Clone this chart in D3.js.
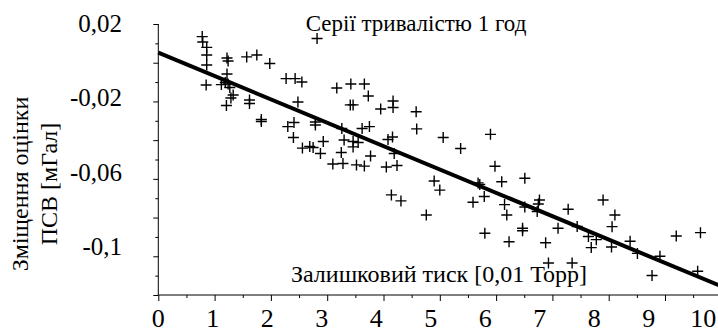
<!DOCTYPE html>
<html>
<head>
<meta charset="utf-8">
<script src="https://cdn.jsdelivr.net/npm/d3@7"></script>
<style>
  body { margin: 0; background: #fff; }
  #chart text { font-family: "Liberation Serif", serif; }
</style>
</head>
<body>
<svg id="chart" width="718" height="333"></svg>
<script>
// residual pressure, 0.01 Torr
const pressure = [
  0.78, 0.79, 0.86, 0.86, 0.86, 0.85, 1.22, 1.24, 1.22, 1.12, 1.19, 1.24, 1.27, 1.33, 1.29, 1.21,
  1.57, 1.75, 1.98, 1.62, 1.62, 1.83, 1.83, 2.27, 2.43, 2.55, 2.48, 2.30, 2.41, 2.40, 2.79, 2.79,
  2.56, 2.69, 2.75, 2.93, 2.88, 2.82, 3.17, 3.42, 3.66, 3.73, 3.41, 3.46, 3.95, 4.17, 4.17, 3.26,
  3.30, 3.46, 3.46, 3.55, 3.62, 3.75, 3.25, 3.77, 4.08, 4.16, 4.19, 3.66, 4.05, 4.24, 3.10, 3.28,
  3.52, 4.58, 4.59, 5.06, 5.37, 5.90, 5.98, 4.90, 5.00, 4.14, 4.31, 4.76, 5.59, 5.68, 5.71, 5.79,
  6.10, 6.51, 6.15, 6.19, 6.51, 6.77, 6.75, 6.73, 7.28, 7.90, 8.11, 8.06, 7.44, 7.10, 6.47, 6.47,
  5.80, 6.23, 6.88, 7.64, 7.69, 7.78, 8.05, 8.38, 8.51, 8.91, 9.20, 9.63, 8.77, 9.58, 6.93, 7.35
]
// shift of the estimate, mGal
const shift = [
  0.0135, 0.0107, 0.0079, 0.0040, -0.0012, -0.0115, 0.0024, 0.0009, -0.0058, -0.0113, -0.0102, -0.0110, -0.0128, -0.0167, -0.0182, -0.0221,
  0.0030, 0.0040, -0.0004, -0.0193, -0.0211, -0.0293, -0.0304, -0.0082, -0.0082, -0.0100, -0.0203, -0.0330, -0.0309, -0.0386, -0.0306, -0.0322,
  -0.0441, -0.0433, -0.0438, -0.0407, -0.0469, 0.0125, -0.0131, -0.0110, -0.0110, -0.0172, -0.0218, -0.0218, -0.0239, -0.0198, -0.0231, -0.0340,
  -0.0399, -0.0407, -0.0435, -0.0412, -0.0340, -0.0330, -0.0464, -0.0482, -0.0397, -0.0384, -0.0469, -0.0534, -0.0539, -0.0531, -0.0523, -0.0521,
  -0.0528, -0.0253, -0.0342, -0.0386, -0.0443, -0.0370, -0.0535, -0.0611, -0.0658, -0.0683, -0.0714, -0.0787, -0.0721, -0.0621, -0.0629, -0.0691,
  -0.0615, -0.0597, -0.0733, -0.0787, -0.0745, -0.0709, -0.0730, -0.0769, -0.0757, -0.0709, -0.0787, -0.0847, -0.0846, -0.0855, -0.0855, -0.0868,
  -0.0881, -0.0925, -0.0930, -0.0898, -0.0955, -0.0914, -0.0952, -0.0922, -0.0985, -0.1000, -0.0895, -0.0878, -0.1099, -0.1077, -0.1035, -0.1035
]

// regression line end points
const fitX = [0, 10]
const fitY = [0.0052, -0.1155]

const xTickValues = [0, 1, 2, 3, 4, 5, 6, 7, 8, 9, 10]
const yTickValues = [0.02, -0.02, -0.06, -0.1]
const yTickLabels = ["0,02", "-0,02", "-0,06", "-0,1"]

const FONT = "Liberation Serif"
const width = 718

const svg = d3.select("#chart")

const x = d3.scaleLinear().domain([0, 10]).range([158.3, 721.3])
const y = d3.scaleLinear().domain([-0.12, 0.02]).range([295, 24])

// tick labels in the original sit slightly off their ticks
const xLabelPos = d3.scaleLinear().domain([0, 10]).range([158.3, 703.3])
const yLabelPos = d3.scaleLinear().domain([-0.1, 0.02]).range([247, 24])

// x axis: major ticks at integers, minor at halves
const xMinor = d3.range(0.5, 10.5, 1)
svg.append("g")
  .attr("transform", `translate(0,${y(-0.12)})`)
  .call(d3.axisBottom(x).tickValues(xTickValues).tickSize(6).tickFormat(""))
  .call((g) => g.select(".domain").remove())
svg.append("g")
  .attr("transform", `translate(0,${y(-0.12)})`)
  .call(d3.axisBottom(x).tickValues(xMinor).tickSize(3).tickFormat(""))
  .call((g) => g.select(".domain").remove())
svg.append("line")
  .attr("x1", x(0)).attr("x2", width)
  .attr("y1", y(-0.12)).attr("y2", y(-0.12))
  .attr("stroke", "#000")

// y axis: ticks every 0.01
const yMajor = d3.range(-6, 2).map((i) => i * 0.02)
const yMinor = d3.range(-6, 1).map((i) => i * 0.02 + 0.01)
svg.append("g")
  .attr("transform", `translate(${x(0)},0)`)
  .call(d3.axisLeft(y).tickValues(yMajor).tickSize(5).tickFormat(""))
  .call((g) => g.select(".domain").remove())
svg.append("g")
  .attr("transform", `translate(${x(0)},0)`)
  .call(d3.axisLeft(y).tickValues(yMinor).tickSize(3).tickFormat(""))
  .call((g) => g.select(".domain").remove())
svg.append("line")
  .attr("x1", x(0)).attr("x2", x(0))
  .attr("y1", y(0.02)).attr("y2", y(-0.12))
  .attr("stroke", "#000")

svg.selectAll("g.tick line").attr("stroke", "#000")

// tick labels
svg.append("g")
  .selectAll("text")
  .data(xTickValues)
  .join("text")
  .attr("x", (d) => xLabelPos(d))
  .attr("y", 327)
  .attr("text-anchor", "middle")
  .attr("font-family", FONT)
  .attr("font-size", "26px")
  .text((d) => d)

svg.append("g")
  .selectAll("text")
  .data(yTickValues)
  .join("text")
  .attr("x", 122)
  .attr("y", (d) => yLabelPos(d))
  .attr("dy", "0.32em")
  .attr("text-anchor", "end")
  .attr("font-family", FONT)
  .attr("font-size", "25px")
  .text((d, i) => yTickLabels[i])

// regression line
svg.append("path")
  .datum(d3.zip(fitX, fitY))
  .attr("d", d3.line().x((d) => x(d[0])).y((d) => y(d[1])))
  .attr("stroke", "#000")
  .attr("stroke-width", 4)
  .attr("fill", "none")

// data points as crosses
svg.append("g")
  .selectAll("path")
  .data(d3.zip(pressure, shift))
  .join("path")
  .attr("transform", (d) => `translate(${x(d[0])},${y(d[1])})`)
  .attr("d", "M-5.5,0H5.5M0,-5.5V5.5")
  .attr("stroke", "#000")
  .attr("stroke-width", 1.4)
  .attr("fill", "none")

// titles
svg.append("text")
  .attr("x", 416)
  .attr("y", 31)
  .attr("text-anchor", "middle")
  .attr("font-family", FONT)
  .attr("font-size", "23px")
  .text("Серії тривалістю 1 год")

svg.append("text")
  .attr("x", 439)
  .attr("y", 282)
  .attr("text-anchor", "middle")
  .attr("font-family", FONT)
  .attr("font-size", "24px")
  .text("Залишковий тиск [0,01 Торр]")

const yTitle = svg.append("text")
  .attr("transform", "translate(0,184) rotate(-90)")
  .attr("text-anchor", "middle")
  .attr("font-family", FONT)
  .attr("font-size", "24px")
yTitle.append("tspan").attr("x", 0).attr("y", 28).text("Зміщення оцінки")
yTitle.append("tspan").attr("x", 0).attr("y", 57).text("ПСВ [мГал]")
</script>
</body>
</html>
